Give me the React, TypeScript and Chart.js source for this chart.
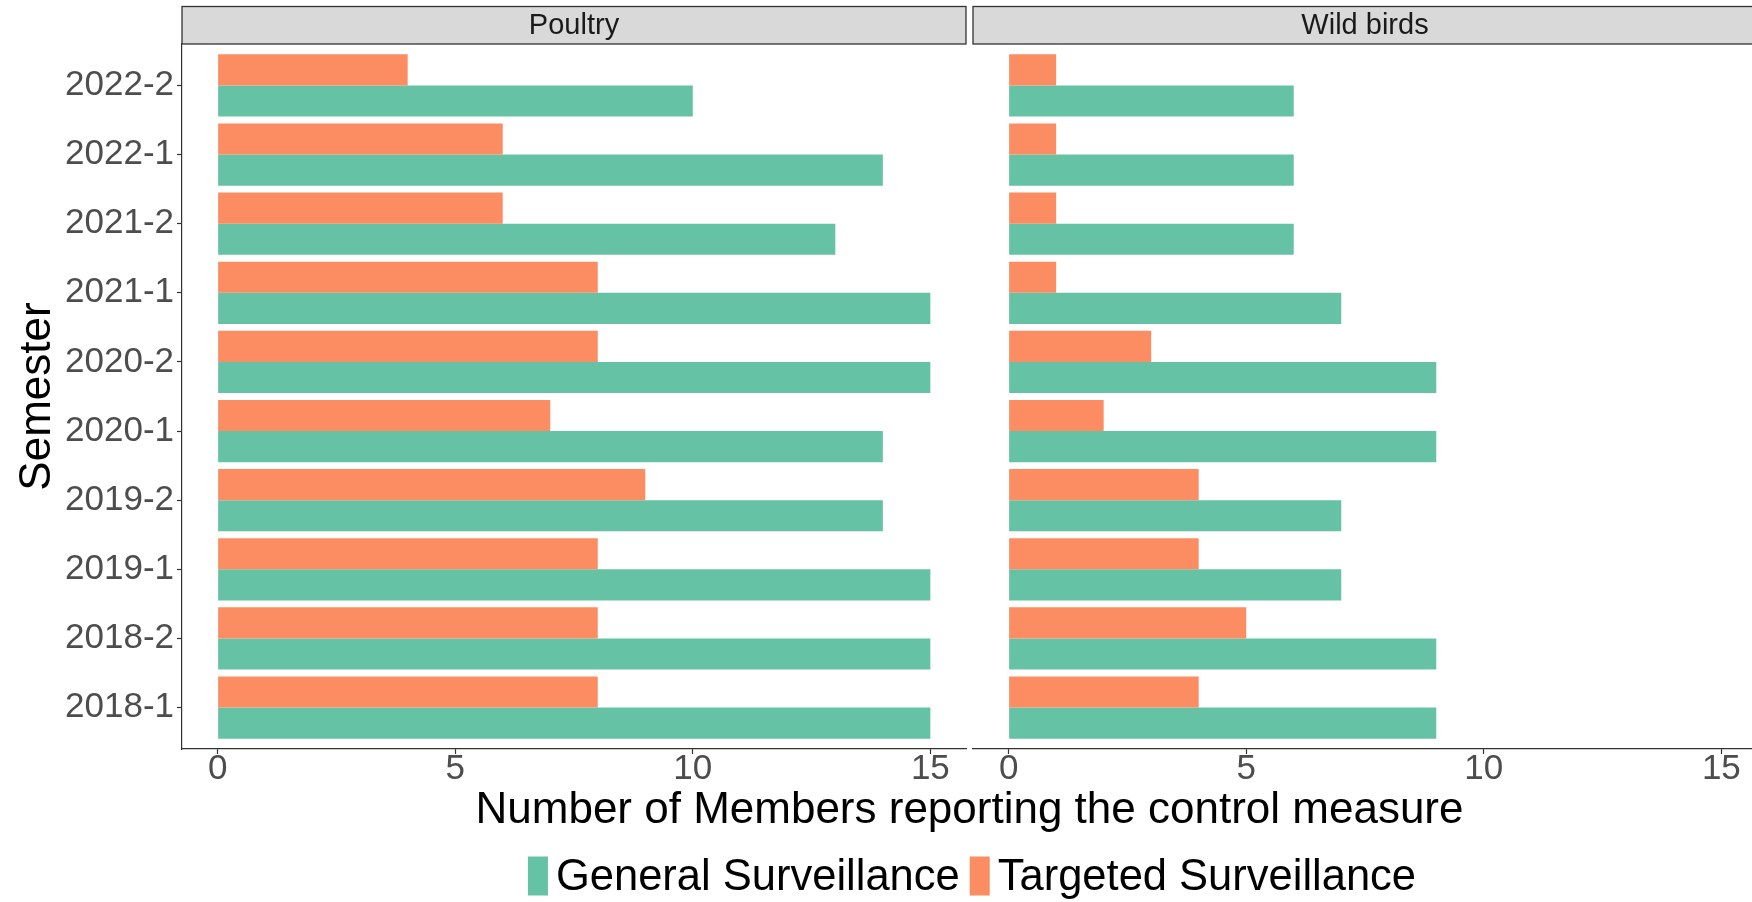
import { useEffect, useRef } from 'react';
import { Chart, registerables } from 'chart.js';

Chart.register(...registerables);

// ---------- data ----------
const semesters = ['2018-1', '2018-2', '2019-1', '2019-2', '2020-1', '2020-2', '2021-1', '2021-2', '2022-1', '2022-2'];
const poultryGeneral = [15, 15, 15, 14, 14, 15, 15, 13, 14, 10];
const poultryTargeted = [8, 8, 8, 9, 7, 8, 8, 6, 6, 4];
const wildGeneral = [9, 9, 7, 7, 9, 9, 7, 6, 6, 6];
const wildTargeted = [4, 5, 4, 4, 2, 3, 1, 1, 1, 1];
const facetLabels = ['Poultry', 'Wild birds'];
const seriesLabels = ['General Surveillance', 'Targeted Surveillance'];
const xTickValues = [0, 5, 10, 15];
const xAxisTitle = 'Number of Members reporting the control measure';
const yAxisTitle = 'Semester';

// ---------- style / layout ----------
const GREEN = '#66C2A5';
const ORANGE = '#FC8D62';
const AXIS = '#333333';
const TICK_TEXT = '#4D4D4D';
const FONT = '"Liberation Sans", Arial, Helvetica, sans-serif';
const W = 1752;
const H = 902;
const PANELS = [
  { left: 182, right: 966 },
  { left: 973, right: 1757 },
];
const PANEL_TOP = 44;
const PANEL_BOTTOM = 749;
const STRIP_TOP = 6.5;

const toPoints = (vals: number[]) => vals.map((v, i) => ({ x: v, y: i }));

const facetPlugin = {
  id: 'facetDecor',
  beforeDraw(chart: any) {
    const ctx = chart.ctx;
    ctx.save();
    ctx.fillStyle = '#ffffff';
    ctx.fillRect(0, 0, chart.width, chart.height);
    ctx.restore();
  },
  afterLayout(chart: any) {
    ['x1', 'x2'].forEach((id, i) => {
      const s = chart.scales[id];
      if (!s) return;
      s.left = PANELS[i].left;
      s.right = PANELS[i].right;
      s.width = PANELS[i].right - PANELS[i].left;
      s.configure();
    });
  },
  afterDraw(chart: any) {
    const ctx = chart.ctx;
    ctx.save();
    // strips
    PANELS.forEach((p, i) => {
      ctx.fillStyle = '#D9D9D9';
      ctx.fillRect(p.left, STRIP_TOP, p.right - p.left, PANEL_TOP - STRIP_TOP);
      ctx.strokeStyle = AXIS;
      ctx.lineWidth = 1.3;
      ctx.strokeRect(p.left, STRIP_TOP, p.right - p.left, PANEL_TOP - STRIP_TOP);
      ctx.fillStyle = '#1A1A1A';
      ctx.font = `29px ${FONT}`;
      ctx.textAlign = 'center';
      ctx.textBaseline = 'middle';
      ctx.fillText(facetLabels[i], (p.left + p.right) / 2, 26);
    });
    // x title
    ctx.fillStyle = '#000000';
    ctx.font = `44px ${FONT}`;
    ctx.textAlign = 'center';
    ctx.textBaseline = 'middle';
    const cx = (PANELS[0].left + PANELS[1].right) / 2;
    ctx.fillText(xAxisTitle, cx, 811);
    // y title
    ctx.save();
    ctx.translate(38, (PANEL_TOP + PANEL_BOTTOM) / 2);
    ctx.rotate(-Math.PI / 2);
    ctx.fillText(yAxisTitle, 0, 0);
    ctx.restore();
    // legend
    ctx.font = `43.5px ${FONT}`;
    const keyW = 20;
    const keyH = 39;
    const keyGap = 8;
    const itemGap = 10;
    const colors = [GREEN, ORANGE];
    const widths = seriesLabels.map((t) => ctx.measureText(t).width);
    const total = widths.reduce((a, w) => a + keyW + keyGap + w, 0) + itemGap;
    let x = 972 - total / 2;
    const cy = 876;
    ctx.textAlign = 'left';
    seriesLabels.forEach((t, i) => {
      ctx.fillStyle = colors[i];
      ctx.fillRect(x, cy - keyH / 2, keyW, keyH);
      x += keyW + keyGap;
      ctx.fillStyle = '#000000';
      ctx.fillText(t, x, cy + 2);
      x += widths[i] + itemGap;
    });
    ctx.restore();
  },
};

const xScale = (id: string) => ({
  type: 'linear' as const,
  axis: 'x' as const,
  position: 'bottom' as const,
  stack: 'facets',
  stacked: false,
  min: -0.75,
  max: 15.75,
  offset: false,
  grid: { display: true, offset: false, drawOnChartArea: false, drawTicks: true, tickLength: 5, tickColor: AXIS, tickWidth: 1.2 },
  border: { display: true, color: AXIS, width: 1.2 },
  ticks: {
    stepSize: 5,
    includeBounds: false,
    padding: -2,
    color: TICK_TEXT,
    font: { family: FONT, size: 35, lineHeight: 1 },
    maxRotation: 0,
    autoSkip: false,
    callback: (v: any) => String(v),
  },
  afterBuildTicks: (s: any) => {
    s.ticks = s.ticks.filter((t: any) => xTickValues.includes(t.value));
  },
  afterFit: (s: any) => {
    s.height = H - PANEL_BOTTOM;
  },
});

export default function App() {
  const ref = useRef<HTMLCanvasElement | null>(null);

  useEffect(() => {
    const canvas = ref.current;
    if (!canvas) return;
    const chart = new Chart(canvas, {
      type: 'bar',
      data: {
        datasets: [
          { label: seriesLabels[1], data: toPoints(poultryTargeted), xAxisID: 'x1', yAxisID: 'y', stack: 'targeted', backgroundColor: ORANGE },
          { label: seriesLabels[0], data: toPoints(poultryGeneral), xAxisID: 'x1', yAxisID: 'y', stack: 'general', backgroundColor: GREEN },
          { label: seriesLabels[1], data: toPoints(wildTargeted), xAxisID: 'x2', yAxisID: 'y', stack: 'targeted', backgroundColor: ORANGE },
          { label: seriesLabels[0], data: toPoints(wildGeneral), xAxisID: 'x2', yAxisID: 'y', stack: 'general', backgroundColor: GREEN },
        ] as any,
      },
      options: {
        indexAxis: 'y',
        responsive: false,
        animation: false,
        events: [],
        layout: { padding: { top: PANEL_TOP, left: 0, right: 0, bottom: 0 } },
        datasets: { bar: { categoryPercentage: 0.9, barPercentage: 1, borderWidth: 0 } },
        plugins: {
          legend: { display: false },
          tooltip: { enabled: false },
          title: { display: false },
        },
        scales: {
          y: {
            type: 'linear',
            position: 'left',
            min: -0.6,
            max: semesters.length - 0.4,
            offset: false,
            grid: { display: true, offset: false, drawOnChartArea: false, drawTicks: true, tickLength: 5, tickColor: AXIS, tickWidth: 1.2 },
            border: { display: true, color: AXIS, width: 1.2 },
            ticks: {
              stepSize: 1,
              includeBounds: false,
              padding: 3,
              color: TICK_TEXT,
              font: { family: FONT, size: 35 },
              autoSkip: false,
              callback: (v: any) => semesters[v] ?? '',
            },
            afterBuildTicks: (s: any) => {
              s.ticks = s.ticks.filter((t: any) => Number.isInteger(t.value) && t.value >= 0 && t.value < semesters.length);
            },
            afterFit: (s: any) => {
              s.width = PANELS[0].left;
            },
          },
          x1: xScale('x1'),
          x2: xScale('x2'),
        } as any,
      },
      plugins: [facetPlugin],
    });
    return () => chart.destroy();
  }, []);

  return (
    <div style={{ position: 'absolute', left: 0, top: 0, width: W, height: H, background: '#ffffff' }}>
      <canvas ref={ref} width={W} height={H} style={{ display: 'block', width: W, height: H }} />
    </div>
  );
}
